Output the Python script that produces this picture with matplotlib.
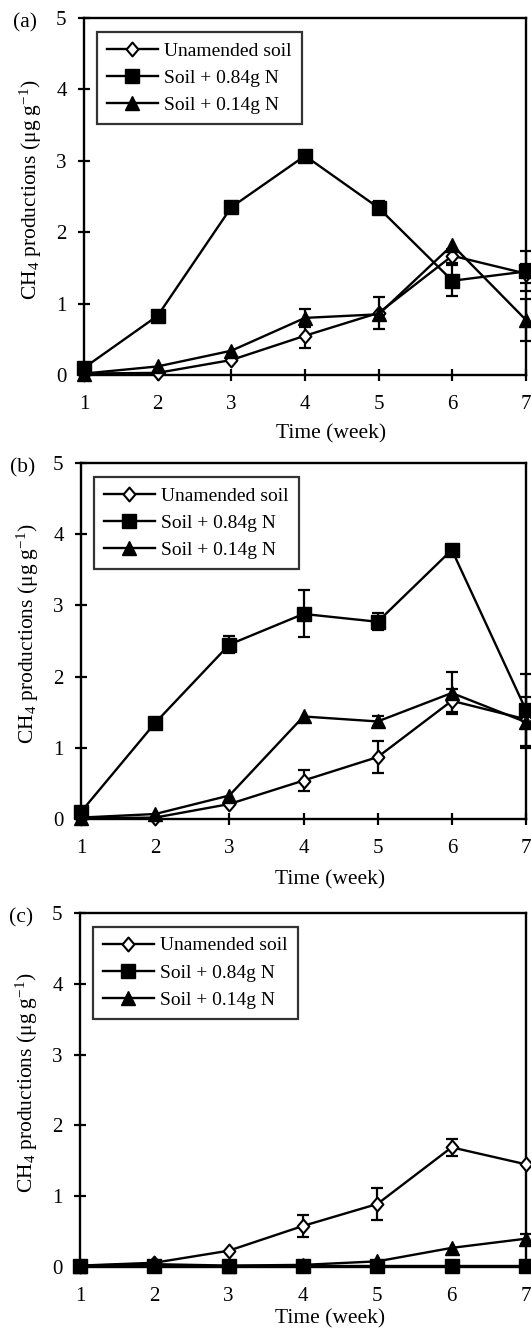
import matplotlib
matplotlib.use("Agg")
import matplotlib.pyplot as plt
import numpy as np
from matplotlib.path import Path

plt.rcParams["font.family"] = ["Liberation Serif", "DejaVu Serif"]
plt.rcParams["mathtext.fontset"] = "custom"
plt.rcParams["mathtext.rm"] = "Liberation Serif"
plt.rcParams["mathtext.it"] = "Liberation Serif:italic"

weeks = [1, 2, 3, 4, 5, 6, 7]
labels = ["Unamended soil", "Soil + 0.84g N", "Soil + 0.14g N"]
panel_names = ["(a)", "(b)", "(c)"]

# panel (a)
a_unam = [0.02, 0.03, 0.21, 0.55, 0.87, 1.67, 1.42]
a_unam_err = [0, 0, 0, 0.17, 0.22, 0.10, 0.13]
a_hi = [0.10, 0.83, 2.35, 3.07, 2.34, 1.32, 1.45]
a_hi_err = [0, 0, 0, 0, 0.09, 0.22, 0.28]
a_lo = [0.02, 0.12, 0.34, 0.80, 0.85, 1.82, 0.77]
a_lo_err = [0, 0, 0, 0.13, 0, 0, 0.30]

# panel (b)
b_unam = [0.01, 0.02, 0.21, 0.54, 0.87, 1.66, 1.40]
b_unam_err = [0, 0, 0, 0.15, 0.22, 0.16, 0]
b_hi = [0.10, 1.35, 2.45, 2.88, 2.77, 3.78, 1.53]
b_hi_err = [0, 0, 0.12, 0.33, 0.12, 0, 0.50]
b_lo = [0.02, 0.07, 0.33, 1.44, 1.37, 1.77, 1.36]
b_lo_err = [0, 0, 0, 0, 0.07, 0.30, 0.36]

# panel (c)
c_unam = [0.02, 0.06, 0.23, 0.58, 0.89, 1.69, 1.45]
c_unam_err = [0, 0, 0, 0.15, 0.23, 0.12, 0]
c_hi = [0.02, 0.02, 0.02, 0.02, 0.02, 0.02, 0.02]
c_hi_err = [0, 0, 0, 0, 0, 0, 0]
c_lo = [0.02, 0.04, 0.02, 0.03, 0.08, 0.27, 0.40]
c_lo_err = [0, 0, 0, 0, 0, 0, 0.07]

panels = [
    [(a_unam, a_unam_err), (a_hi, a_hi_err), (a_lo, a_lo_err)],
    [(b_unam, b_unam_err), (b_hi, b_hi_err), (b_lo, b_lo_err)],
    [(c_unam, c_unam_err), (c_hi, c_hi_err), (c_lo, c_lo_err)],
]

W, H = 531, 1330
# axes boxes in pixels: left, right, top, bottom, xlabel offset
boxes = [(84, 526, 18, 375, -0.138), (81, 526, 463, 819, -0.143), (80, 526, 913, 1267, -0.12)]

diamond = Path([(0, 1), (0.85, 0), (0, -1), (-0.85, 0), (0, 1)],
               [Path.MOVETO, Path.LINETO, Path.LINETO, Path.LINETO, Path.CLOSEPOLY])
styles = [
    dict(marker=diamond, ms=10, mfc="white", mec="black", mew=1.5),
    dict(marker="s", ms=10, mfc="black", mec="black", mew=1),
    dict(marker="^", ms=10, mfc="black", mec="black", mew=1),
]

fig = plt.figure(figsize=(W / 100, H / 100), dpi=100)

for (l, r, t, b, xl), series, name in zip(boxes, panels, panel_names):
    ax = fig.add_axes([l / W, 1 - b / H, (r - l) / W, (b - t) / H])
    for (vals, errs), st, lab in zip(series, styles, labels):
        x = np.array(weeks)
        y = np.array(vals)
        e = np.array(errs)
        m = e > 0
        if m.any():
            ax.errorbar(x[m], y[m], yerr=e[m], fmt="none", ecolor="black",
                        elinewidth=1.6, capsize=4.5, capthick=1.6, zorder=2, clip_on=False)
        ax.plot(x, y, color="black", lw=1.7, label=lab, zorder=3, clip_on=False, **st)
    ax.set_xlim(1, 7)
    ax.set_ylim(0, 5)
    ax.set_xticks(weeks)
    ax.set_yticks([0, 1, 2, 3, 4, 5])
    ax.tick_params(direction="inout", length=9, width=1.6, labelsize=15)
    ax.tick_params(axis="x", pad=10)
    ax.tick_params(axis="y", pad=8)
    for sp in ax.spines.values():
        sp.set_linewidth(1.7)
    ax.set_xlabel("Time (week)", fontsize=15.5)
    ax.xaxis.set_label_coords(0.56, xl)
    ax.set_ylabel(r"CH$_4$ productions ($\mathrm{\mu g\ g^{-1}}$)", fontsize=15.5)
    ax.yaxis.set_label_coords(-0.09, 0.52)
    ax.text(-0.16, 0.985, name, transform=ax.transAxes, fontsize=15.5, va="center", ha="left")
    leg = ax.legend(loc="upper left", bbox_to_anchor=(0.03, 0.96), borderaxespad=0,
                    fontsize=14, frameon=True, fancybox=False, edgecolor="black",
                    handlelength=2.6, handletextpad=0.35, labelspacing=0.5,
                    borderpad=0.5)
    leg.get_frame().set_linewidth(1.6)

fig.savefig("out.png", dpi=100)
